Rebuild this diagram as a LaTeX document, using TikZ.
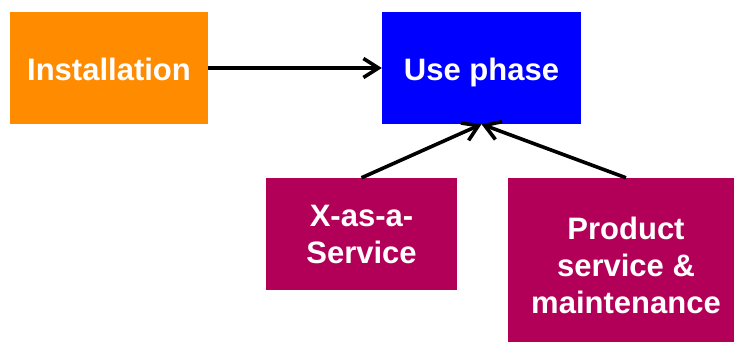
\documentclass[tikz,border=0pt]{standalone}
\usepackage{fontspec}
\setmainfont{Liberation Sans}
\usetikzlibrary{arrows.meta}
\definecolor{instorange}{RGB}{255,140,0}
\definecolor{useblue}{RGB}{0,0,255}
\definecolor{servmagenta}{RGB}{178,0,88}
\tikzset{
	phasebox/.style={rectangle, inner sep=0pt, text=white, align=center,
		font=\fontsize{31}{37}\selectfont\bfseries},
	oneline/.style={text height=30pt, text depth=4pt},
	flow/.style={line width=3.6pt, -{Straight Barb[length=15pt, width=19pt, line width=3.6pt]}}
}

\begin{document}
\begin{tikzpicture}[x=1pt, y=1pt]
			%%%%% START %%%%%
			
			\clip (0, 0) rectangle (734, 343);
			
			\node[phasebox, oneline, fill=instorange, minimum width=198pt, minimum height=112pt] (inst) at (109, 275) {Installation};
			\node[phasebox, oneline, fill=useblue, minimum width=199pt, minimum height=112pt] (use) at (481.5, 275) {Use phase};
			
			\node[phasebox, fill=servmagenta, minimum width=191pt, minimum height=112pt] (xaas) at (361.5, 109) {X-as-a-\\Service};
			\node[phasebox, text height=106pt, text depth=0pt, fill=servmagenta, minimum width=236pt, minimum height=164pt] (prod) at (626, 83) {Product\\service \&\\maintenance};
			
			\draw[flow] (inst) -- (use);
			\draw[flow] (xaas.north) -- (use.south);
			\draw[flow] (prod.north) -- (use.south);
			
			%%%%% END %%%%%
		\end{tikzpicture}
\end{document}
